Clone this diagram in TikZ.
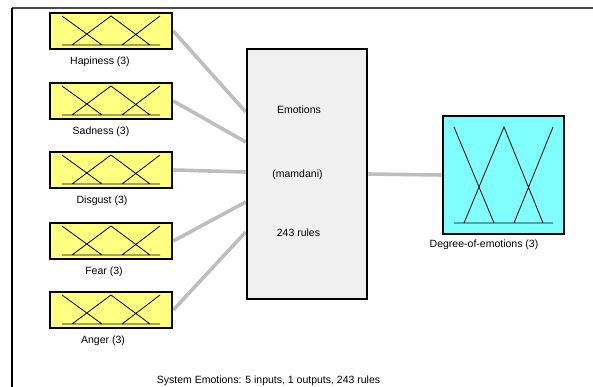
\documentclass[tikz,border=0pt]{standalone}
\usepackage{fontspec}
\setmainfont{Liberation Sans}
\usetikzlibrary{calc,positioning,backgrounds}
\definecolor{inyellow}{HTML}{FFFF80}
\definecolor{outcyan}{HTML}{80FFFF}
\definecolor{fisgray}{HTML}{F0F0F0}
\definecolor{linkgray}{HTML}{BEBEBE}

\begin{document}
\begin{tikzpicture}[x=1pt,y=-1pt,font=\fontsize{10.5}{12}\selectfont,
  mf/.style={draw=black,line width=2.6pt,inner sep=0pt},
  inbox/.style={mf,fill=inyellow,minimum width=122pt,minimum height=36pt},
  mfline/.style={line width=0.8pt},
  lbl/.style={inner sep=0pt},
  link/.style={draw=linkgray,line width=3.6pt}]
\useasboundingbox (0,0) rectangle (593,387);
\draw[black!70,line width=1.5pt] (12,8)--(593,8);
\draw[line width=1.5pt] (12,8)--(12,387);
% fuzzy system block
\node[mf,fill=fisgray,minimum width=120pt,minimum height=250pt] (fis) at (307,174) {};
\node[lbl,xshift=-8] (fis-name) at (307,110) {Emotions};
\node[lbl,xshift=-9.5] (fis-type) at (307,175) {(mamdani)};
\node[lbl,xshift=-8.5] (fis-rules) at (307,233) {243 rules};
% inputs
\foreach \name/\lab/\yc/\dx [count=\i] in {hap/Hapiness/31/-11,sad/Sadness/101/-10,dis/Disgust/170/-9,fea/Fear/241/-7,ang/Anger/310/-8}{
  \node[inbox] (\name) at (111,\yc) {};
  \node[lbl,xshift=\dx] (\name-l) at (111,{\yc+31}) {\lab{} (3)};
  \begin{scope}[shift={(\name)}]
    \draw[mfline] (-49,14)--(49,14) (-49,-15)--(-9,14) (-39,14)--(0,-15)--(39,14) (11,14)--(49,-15);
  \end{scope}
  \coordinate (\name-in) at ($(fis.west)+(0,{30*(\i-3)-2})$);
  \begin{scope}[on background layer]
    \draw[link] (\name.east)--(\name-in);
  \end{scope}
}
% output
\node[mf,fill=outcyan,minimum width=121pt,minimum height=118pt] (deg) at (503.5,175) {};
\begin{scope}[shift={(deg)}]
  \draw[mfline] (-49.5,48)--(49.5,48) (-49.5,-48)--(-9.5,48) (-39.5,48)--(0.5,-48)--(39.5,48) (10.5,48)--(49.5,-48);
\end{scope}
\node[lbl,xshift=-19.5] (deg-l) at (503.5,245) {Degree-of-emotions (3)};
\begin{scope}[on background layer]
  \draw[link] (fis.east)--(deg.west);
\end{scope}
\node[lbl] (sys) at (268.5,381) {System Emotions: 5 inputs, 1 outputs, 243 rules};
\end{tikzpicture}
\end{document}
